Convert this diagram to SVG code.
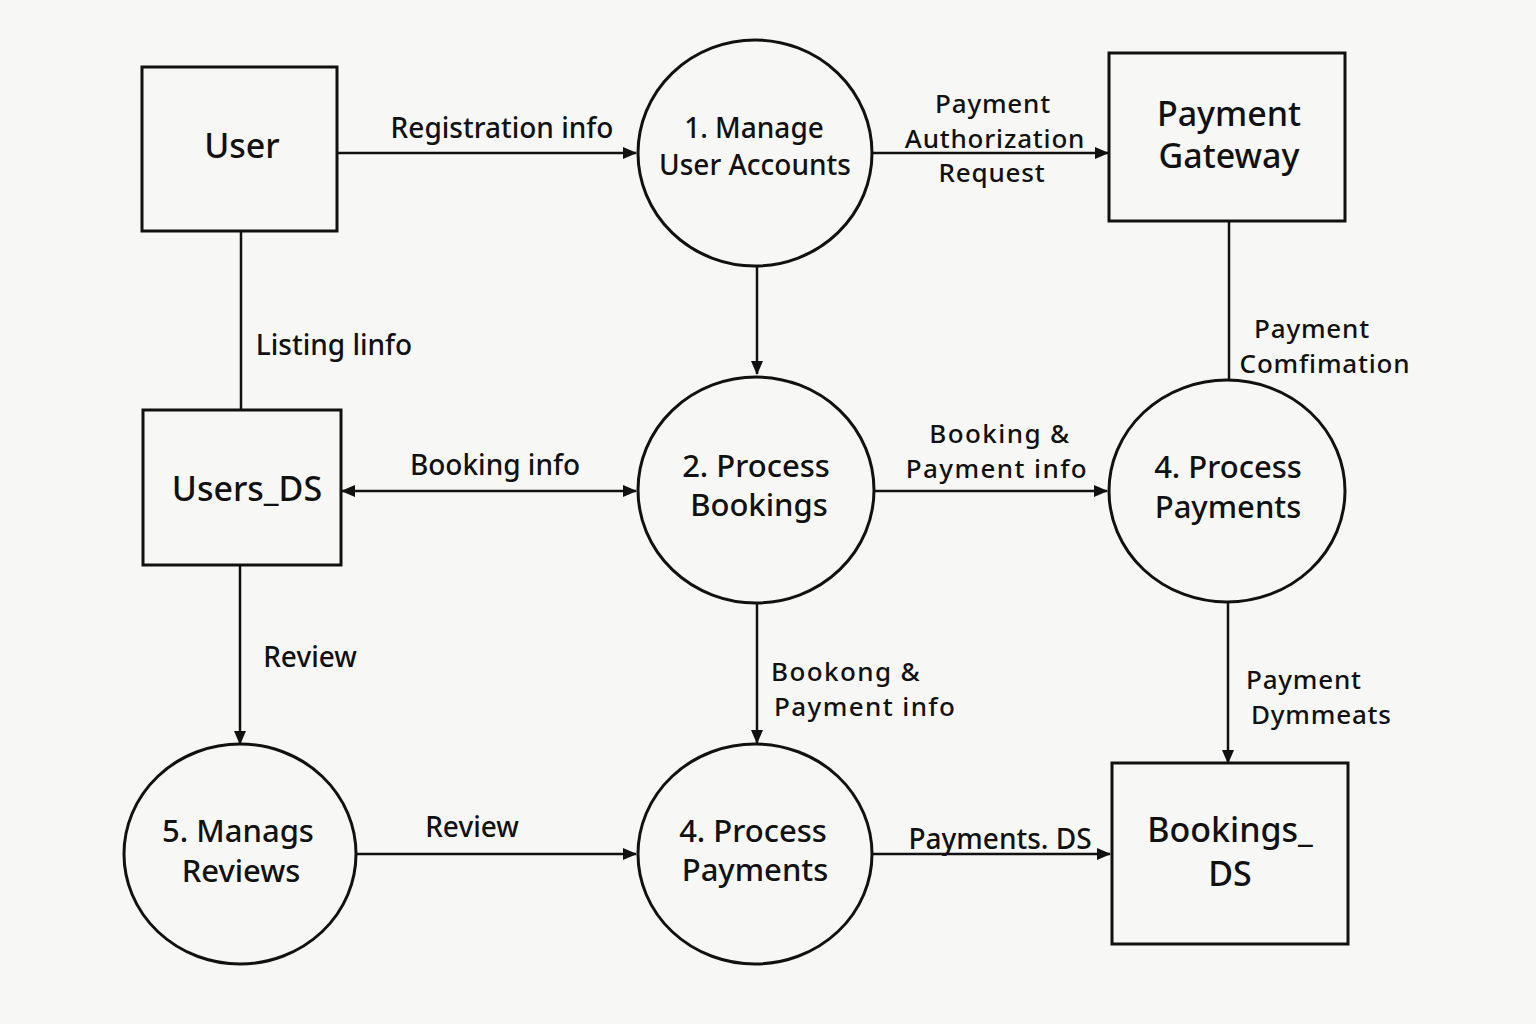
<svg xmlns="http://www.w3.org/2000/svg" width="1536" height="1024" viewBox="0 0 1536 1024">
<style>
.bg{fill:#f7f7f5}
.node{fill:#f7f7f5;stroke:#111;stroke-width:3}
.edge{fill:none;stroke:#111;stroke-width:2.5}
.t{font-family:"Noto Sans","Open Sans",sans-serif;fill:#111;text-anchor:middle;font-weight:500}
.n{font-size:34px}
.p{font-size:31px}
.l{font-size:28px}
.s{font-size:26px}
.w{letter-spacing:0.8px}
.ww{letter-spacing:1.4px}
.ls{text-anchor:start}
</style>
<defs>
<marker id="ah" viewBox="0 0 14 12" refX="13" refY="6" markerWidth="14" markerHeight="12" markerUnits="userSpaceOnUse" orient="auto-start-reverse">
<path d="M0,0 L14,6 L0,12 Z" fill="#111"/>
</marker>
</defs>
<rect class="bg" x="0" y="0" width="1536" height="1024"/>
<g id="connectors">
<line class="edge" x1="337" y1="153" x2="636" y2="153" marker-end="url(#ah)"/>
<line class="edge" x1="872" y1="153" x2="1108" y2="153" marker-end="url(#ah)"/>
<line class="edge" x1="757" y1="265" x2="757" y2="374" marker-end="url(#ah)"/>
<line class="edge" x1="241" y1="231" x2="241" y2="410"/>
<line class="edge" x1="342" y1="491" x2="636" y2="491" marker-start="url(#ah)" marker-end="url(#ah)"/>
<line class="edge" x1="874" y1="491" x2="1107" y2="491" marker-end="url(#ah)"/>
<line class="edge" x1="1229" y1="221" x2="1229" y2="380"/>
<line class="edge" x1="240" y1="565" x2="240" y2="744" marker-end="url(#ah)"/>
<line class="edge" x1="757" y1="602" x2="757" y2="743" marker-end="url(#ah)"/>
<line class="edge" x1="1228" y1="602" x2="1228" y2="763" marker-end="url(#ah)"/>
<line class="edge" x1="356" y1="854" x2="636" y2="854" marker-end="url(#ah)"/>
<line class="edge" x1="872" y1="854" x2="1110" y2="854" marker-end="url(#ah)"/>
<text class="t l" x="502" y="138">Registration info</text>
<text class="t s w" x="993" y="113">Payment</text>
<text class="t s w" x="995" y="148">Authorization</text>
<text class="t s w" x="992" y="182">Request</text>
<text class="t l" x="334" y="355">Listing linfo</text>
<text class="t l" x="495" y="475">Booking info</text>
<text class="t s ww" x="1000" y="443">Booking &amp;</text>
<text class="t s ww" x="997" y="478">Payment info</text>
<text class="t s w" x="1312" y="338">Payment</text>
<text class="t s w" x="1325" y="373">Comfimation</text>
<text class="t l" x="310" y="667">Review</text>
<text class="t s ww ls" x="771" y="681">Bookong &amp;</text>
<text class="t s ww ls" x="774" y="716">Payment info</text>
<text class="t s w ls" x="1246" y="689">Payment</text>
<text class="t s w ls" x="1251" y="724">Dymmeats</text>
<text class="t l" x="472" y="837">Review</text>
<text class="t l" x="1000" y="849">Payments. DS</text>
</g>
<g id="user">
<rect class="node" x="142" y="67" width="195" height="164"/>
<text class="t n" x="242" y="158">User</text>
</g>
<g id="users_ds">
<rect class="node" x="143" y="410" width="198" height="155"/>
<text class="t n" x="247" y="501">Users_DS</text>
</g>
<g id="payment_gateway">
<rect class="node" x="1109" y="53" width="236" height="168"/>
<text class="t n" x="1229" y="126">Payment</text>
<text class="t n" x="1229" y="168">Gateway</text>
</g>
<g id="bookings_ds">
<rect class="node" x="1112" y="763" width="236" height="181"/>
<text class="t n" x="1230" y="842">Bookings_</text>
<text class="t n" x="1230" y="886">DS</text>
</g>
<g id="p1">
<ellipse class="node" cx="755" cy="153" rx="117" ry="113"/>
<text class="t l" x="754" y="138">1. Manage</text>
<text class="t l" x="755" y="175">User Accounts</text>
</g>
<g id="p2">
<ellipse class="node" cx="756" cy="490" rx="118" ry="113"/>
<text class="t p" x="756" y="477">2. Process</text>
<text class="t p" x="759" y="516">Bookings</text>
</g>
<g id="p4a">
<ellipse class="node" cx="1227" cy="491" rx="118" ry="111"/>
<text class="t p" x="1228" y="478">4. Process</text>
<text class="t p" x="1228" y="518">Payments</text>
</g>
<g id="p5">
<ellipse class="node" cx="240" cy="854" rx="116" ry="110"/>
<text class="t p" x="238" y="842">5. Manags</text>
<text class="t p" x="241" y="882">Reviews</text>
</g>
<g id="p4b">
<ellipse class="node" cx="755" cy="854" rx="117" ry="110"/>
<text class="t p" x="753" y="842">4. Process</text>
<text class="t p" x="755" y="881">Payments</text>
</g>
</svg>
